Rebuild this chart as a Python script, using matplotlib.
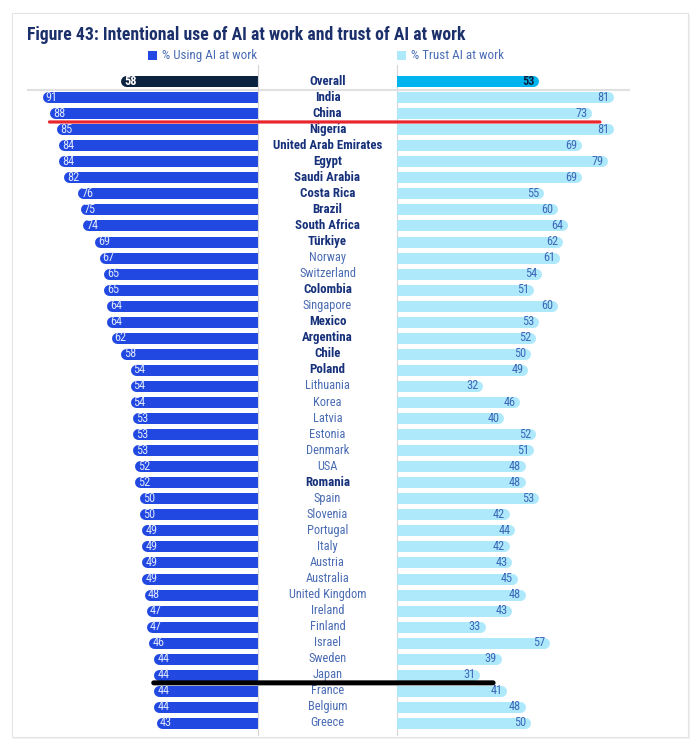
import numpy as np
import matplotlib
matplotlib.use("Agg")
import matplotlib.pyplot as plt
from matplotlib import font_manager
from matplotlib.patches import Rectangle, ConnectionPatch

# data
countries = ["India", "China", "Nigeria", "United Arab Emirates", "Egypt", "Saudi Arabia",
             "Costa Rica", "Brazil", "South Africa", "Türkiye", "Norway", "Switzerland",
             "Colombia", "Singapore", "Mexico", "Argentina", "Chile", "Poland", "Lithuania",
             "Korea", "Latvia", "Estonia", "Denmark", "USA", "Romania", "Spain", "Slovenia",
             "Portugal", "Italy", "Austria", "Australia", "United Kingdom", "Ireland",
             "Finland", "Israel", "Sweden", "Japan", "France", "Belgium", "Greece"]
use_ai = [91, 88, 85, 84, 84, 82, 76, 75, 74, 69, 67, 65, 65, 64, 64, 62, 58, 54, 54, 54,
          53, 53, 53, 52, 52, 50, 50, 49, 49, 49, 49, 48, 47, 47, 46, 44, 44, 44, 44, 43]
trust_ai = [81, 73, 81, 69, 79, 69, 55, 60, 64, 62, 61, 54, 51, 60, 53, 52, 50, 49, 32, 46,
            40, 52, 51, 48, 48, 53, 42, 44, 42, 43, 45, 48, 43, 33, 57, 39, 31, 41, 48, 50]
bold_countries = ["India", "China", "Nigeria", "United Arab Emirates", "Egypt", "Saudi Arabia",
                  "Costa Rica", "Brazil", "South Africa", "Türkiye", "Colombia", "Mexico",
                  "Argentina", "Chile", "Poland", "Romania"]
overall_use = 58
overall_trust = 53

# fonts - narrow one if there is one
names = {f.name for f in font_manager.fontManager.ttflist}
FONT = "DejaVu Sans"
for cand in ["Liberation Sans Narrow", "Roboto Condensed", "Open Sans Condensed", "Roboto"]:
    if cand in names:
        FONT = cand
        break
plt.rcParams["font.family"] = [FONT, "DejaVu Sans"]

BLUE = "#2148e0"
LIGHT = "#ade8fb"
NAVY = "#0c2340"
CYAN = "#00b5ef"
TXT_DARK = "#16307a"
TXT_LIGHT = "#4a6cb3"

W, H = 700, 748
def fx(px):
    return px / W
def fy(py):
    return 1 - py / H

fig = plt.figure(figsize=(7, 7.48), dpi=100)
fig.patch.set_facecolor("white")

# card
fig.add_artist(Rectangle((fx(14), fy(739)), fx(676), 724 / H, transform=fig.transFigure,
                         facecolor="#f1f1f1", edgecolor="none", zorder=-11))
fig.add_artist(Rectangle((fx(12), fy(737)), fx(676), 724 / H, transform=fig.transFigure,
                         facecolor="white", edgecolor="#e4e4e4", lw=0.8, zorder=-10))

top_px, bot_px = 65, 735
ax_h = (bot_px - top_px) / H
ylim = (40.75, -1.0)

ax_l = fig.add_axes([fx(27), fy(bot_px), fx(231), ax_h])
ax_c = fig.add_axes([fx(258), fy(bot_px), fx(139), ax_h])
ax_r = fig.add_axes([fx(397), fy(bot_px), fx(233), ax_h])

for ax in (ax_l, ax_c, ax_r):
    ax.set_ylim(ylim)
    ax.set_facecolor("none")
    ax.set_xticks([])
    ax.set_yticks([])
    for s in ax.spines.values():
        s.set_visible(False)
    ax.axhline(0.55, color="#e0e0e0", lw=1.5, zorder=1)

ax_l.set_xlim(231 / 2.37, 0)
ax_r.set_xlim(0, 233 / 2.67)
ax_c.set_xlim(0, 1)
ax_c.spines["left"].set_visible(True)
ax_c.spines["right"].set_visible(True)
ax_c.spines["left"].set_color("#d6d6d6")
ax_c.spines["right"].set_color("#d6d6d6")

rows = np.arange(1, len(countries) + 1)
bar_px = 11
lw_pt = bar_px * 0.72
r_l = (bar_px / 2) / 2.37
r_r = (bar_px / 2) / 2.67

# left bars
ax_l.hlines(rows, 0, np.array(use_ai) - r_l, colors=BLUE, lw=lw_pt, capstyle="round", zorder=2)
ax_l.hlines([0], 0, overall_use - r_l, colors=NAVY, lw=lw_pt, capstyle="round", zorder=2)
for y, v in zip(rows, use_ai):
    ax_l.annotate(str(v), (v, y), xytext=(2.5, 0), textcoords="offset points",
                  ha="left", va="center", fontsize=8.8, color="#dfe7ff", zorder=3)
ax_l.annotate(str(overall_use), (overall_use, 0), xytext=(2.5, 0), textcoords="offset points",
              ha="left", va="center", fontsize=8.8, color="white", fontweight="bold", zorder=3)

# right bars
ax_r.hlines(rows, 0, np.array(trust_ai) - r_r, colors=LIGHT, lw=lw_pt, capstyle="round", zorder=2)
ax_r.hlines([0], 0, overall_trust - r_r, colors=CYAN, lw=lw_pt, capstyle="round", zorder=2)
for y, v in zip(rows, trust_ai):
    ax_r.annotate(str(v), (v, y), xytext=(-3, 0), textcoords="offset points",
                  ha="right", va="center", fontsize=8.8, color="#3d68b8", zorder=3)
ax_r.annotate(str(overall_trust), (overall_trust, 0), xytext=(-3, 0), textcoords="offset points",
              ha="right", va="center", fontsize=8.8, color=NAVY, fontweight="bold", zorder=3)

# country labels
ax_c.text(0.5, 0, "Overall", ha="center", va="center", fontsize=9.3,
          fontweight="bold", color=TXT_DARK)
for y, c in zip(rows, countries):
    b = c in bold_countries
    ax_c.text(0.5, y, c, ha="center", va="center", fontsize=9.3 if b else 8.9,
              fontweight="bold" if b else "normal", color=TXT_DARK if b else TXT_LIGHT)

# title and legend
fig.text(fx(27), fy(35), "Figure 43: Intentional use of AI at work and trust of AI at work",
         fontsize=12.7, fontweight="bold", color="#1b2f6b", ha="left", va="center")
fig.add_artist(Rectangle((fx(148), fy(60)), fx(9), 9 / H, transform=fig.transFigure,
                         facecolor=BLUE, edgecolor="none"))
fig.text(fx(162), fy(55.5), "% Using AI at work", fontsize=9.4, color=TXT_LIGHT,
         ha="left", va="center")
fig.add_artist(Rectangle((fx(397), fy(60)), fx(9), 9 / H, transform=fig.transFigure,
                         facecolor=LIGHT, edgecolor="none"))
fig.text(fx(411), fy(55.5), "% Trust AI at work", fontsize=9.4, color=TXT_LIGHT,
         ha="left", va="center")

# hand-drawn marks under China and Japan
i_cn = countries.index("China")
i_jp = countries.index("Japan")
red = ConnectionPatch((use_ai[i_cn], i_cn + 1.55), (trust_ai[i_cn] + 3, i_cn + 1.55),
                      coordsA=ax_l.transData, coordsB=ax_r.transData,
                      color="#e8262e", lw=2.3, capstyle="round", zorder=10)
fig.add_artist(red)
blk = ConnectionPatch((use_ai[i_jp], i_jp + 1.5), (trust_ai[i_jp] + 5, i_jp + 1.5),
                      coordsA=ax_l.transData, coordsB=ax_r.transData,
                      color="black", lw=3.6, capstyle="round", zorder=10)
fig.add_artist(blk)

fig.savefig("out.png", dpi=100, facecolor="white")
